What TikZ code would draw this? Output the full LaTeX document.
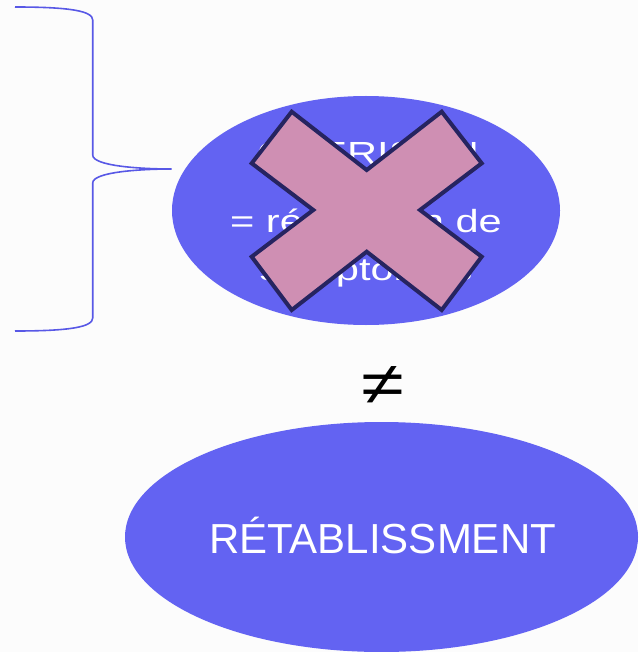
\documentclass[tikz,border=0pt]{standalone}
\usepackage{fontspec}
\setmainfont{Liberation Sans}
\newfontfamily\widesans[FakeStretch=1.3]{Liberation Sans}
\usetikzlibrary{shapes.geometric}
\definecolor{bgc}{RGB}{252,252,252}
\definecolor{ovalblue}{RGB}{99,99,242}
\definecolor{bracec}{RGB}{88,88,230}
\definecolor{crossfill}{RGB}{207,143,179}
\definecolor{crossline}{RGB}{38,36,96}
\tikzset{
  oval/.style={ellipse, fill=ovalblue, draw=none, inner sep=0pt},
  ovaltext/.style={text=white, inner sep=0pt, anchor=base},
  cross/.style={fill=crossfill, draw=crossline, line width=3pt, line join=miter},
  bracestyle/.style={draw=bracec, line width=1.2pt}
}
\begin{document}
\begin{tikzpicture}[x=0.75pt, y=-0.75pt]
  \fill[bgc] (0,0) rectangle (638,652);
  \useasboundingbox (0,0) rectangle (638,652);

  % upper oval with its three lines of text
  \node[oval, minimum width=291pt, minimum height=171.75pt] (gue) at (366,210.5) {};
  \node[ovaltext, font=\widesans\fontsize{24}{28}\selectfont] (l1) at (368,165) {GUERISON};
  \node[ovaltext, font=\widesans\fontsize{24}{28}\selectfont] (l2) at (366,233) {= rémission de};
  \node[ovaltext, font=\widesans\fontsize{24}{28}\selectfont] (l3) at (366,280) {symptômes};

  % crossing-out mark
  \path[cross] (291.7,111.7) -- (366.7,170) -- (441.7,111.7) -- (481.7,163.3)
    -- (420,210) -- (481.7,256.7) -- (441.7,310) -- (366.7,251.7)
    -- (291.7,310) -- (251.7,256.7) -- (313.3,210) -- (251.7,163.3) -- cycle;

  % curly brace pointing at the upper oval
  \coordinate (tip) at (171.7,169);
  \draw[bracestyle] (15,7) .. controls (70,7) and (92.7,11) .. (92.7,20)
    -- (92.7,155) .. controls (92.7,166) and (140,169) .. (tip)
    .. controls (140,169) and (92.7,172) .. (92.7,183)
    -- (92.7,318) .. controls (92.7,327) and (70,331) .. (15,331);

  % not-equal sign
  \node[inner sep=0pt, font=\widesans\fontsize{45}{50}\selectfont] (neq) at (383,386) {≠};

  % lower oval
  \node[oval, minimum width=384.75pt, minimum height=172.5pt] (ret) at (381.5,537) {};
  \node[ovaltext, font=\fontsize{31.5}{36}\selectfont] (rett) at (382.5,553) {RÉTABLISSMENT};
\end{tikzpicture}
\end{document}
